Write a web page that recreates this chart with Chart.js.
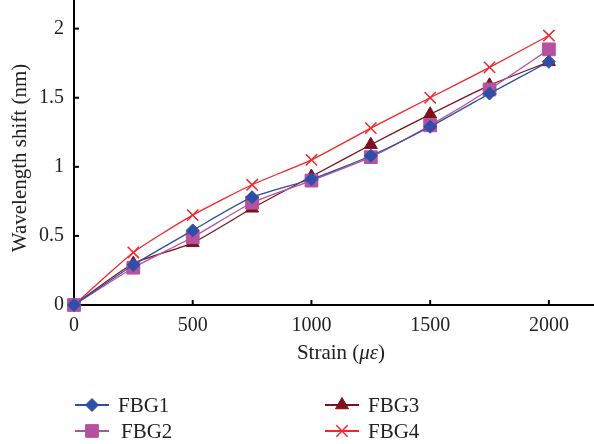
<!DOCTYPE html>
<html>
<head>
<meta charset="utf-8">
<script src="https://cdn.jsdelivr.net/npm/chart.js@4/dist/chart.umd.min.js"></script>
<style>
  html, body { margin: 0; padding: 0; background: #fff; }
  #wrap { width: 594px; height: 444px; }
</style>
</head>
<body>
<div id="wrap"><canvas id="chart" width="594" height="444"></canvas></div>
<script>
// strain steps (microstrain)
const strain = [0, 250, 500, 750, 1000, 1250, 1500, 1750, 2000];
// wavelength shift (nm)
const fbg1 = [0, 0.29, 0.54, 0.78, 0.91, 1.08, 1.29, 1.53, 1.76];
const fbg2 = [0, 0.27, 0.49, 0.74, 0.90, 1.07, 1.30, 1.56, 1.85];
const fbg3 = [0, 0.30, 0.45, 0.70, 0.93, 1.16, 1.38, 1.59, 1.76];
const fbg4 = [0, 0.38, 0.65, 0.87, 1.05, 1.28, 1.50, 1.72, 1.95];
const xTicks = [0, 500, 1000, 1500, 2000];
const yTicks = [0, 0.5, 1, 1.5, 2];

const FONT = "'Liberation Serif', 'DejaVu Serif', serif";

const series = [
  { label: "FBG1", data: fbg1, color: "#2f4fa6", style: "rectRot", radius: 6.5 },
  { label: "FBG2", data: fbg2, color: "#b6519f", style: "rect", radius: 9 },
  { label: "FBG3", data: fbg3, color: "#7d111c", style: "triangle", radius: 7.5 },
  { label: "FBG4", data: fbg4, color: "#f2262c", style: "crossRot", radius: 8 },
];

const datasets = series.map((s) => ({
  label: s.label,
  data: strain.map((x, i) => ({ x: x, y: s.data[i] })),
  borderColor: s.color,
  backgroundColor: s.color,
  borderWidth: 1.3,
  pointStyle: s.style,
  pointRadius: s.radius,
  pointBorderWidth: s.style === "crossRot" ? 1.5 : 1,
  pointBorderColor: s.color,
  pointBackgroundColor: s.color,
  tension: 0.2,
  clip: false,
}));

// inward tick marks, drawn from the scales
const tickMarks = {
  id: "tickMarks",
  beforeDatasetsDraw(chart) {
    const { ctx, chartArea, scales } = chart;
    ctx.save();
    ctx.strokeStyle = "#000";
    ctx.lineWidth = 2;
    xTicks.forEach((v) => {
      const px = scales.x.getPixelForValue(v);
      ctx.beginPath();
      ctx.moveTo(px, chartArea.bottom);
      ctx.lineTo(px, chartArea.bottom - 5);
      ctx.stroke();
    });
    yTicks.forEach((v) => {
      const py = scales.y.getPixelForValue(v);
      ctx.beginPath();
      ctx.moveTo(chartArea.left, py);
      ctx.lineTo(chartArea.left + 5, py);
      ctx.stroke();
    });
    ctx.restore();
  },
};

// axis titles and the two-column legend
const extras = {
  id: "extras",
  afterDraw(chart) {
    const { ctx } = chart;
    ctx.save();
    ctx.fillStyle = "#222";
    ctx.textBaseline = "middle";

    // y title
    ctx.save();
    ctx.translate(20, 158);
    ctx.rotate(-Math.PI / 2);
    ctx.textAlign = "center";
    ctx.font = "21px " + FONT;
    ctx.fillText("Wavelength shift (nm)", 0, 0);
    ctx.restore();

    // x title with italic symbol
    const parts = [
      ["Strain (", "21px " + FONT],
      ["\u03bc\u03b5", "italic 21px " + FONT],
      [")", "21px " + FONT],
    ];
    let total = 0;
    parts.forEach((p) => { ctx.font = p[1]; total += ctx.measureText(p[0]).width; });
    let x = 341 - total / 2;
    ctx.textAlign = "left";
    parts.forEach((p) => {
      ctx.font = p[1];
      ctx.fillText(p[0], x, 353);
      x += ctx.measureText(p[0]).width;
    });

    // legend
    const cols = [75, 325];
    const rows = [405, 431];
    chart.data.datasets.forEach((ds, i) => {
      const lx = cols[Math.floor(i / 2)];
      const ly = rows[i % 2];
      ctx.strokeStyle = ds.borderColor;
      ctx.lineWidth = 2;
      ctx.beginPath();
      ctx.moveTo(lx, ly);
      ctx.lineTo(lx + 34, ly);
      ctx.stroke();
      ctx.fillStyle = ds.backgroundColor;
      ctx.lineWidth = ds.pointBorderWidth;
      if (Chart.helpers && Chart.helpers.drawPoint) {
        Chart.helpers.drawPoint(ctx, {
          pointStyle: ds.pointStyle,
          radius: ds.pointRadius,
          rotation: 0,
          borderWidth: ds.pointBorderWidth,
        }, lx + 17, ly);
      }
      ctx.fillStyle = "#222";
      ctx.font = "21px " + FONT;
      ctx.textAlign = "left";
      ctx.fillText(ds.label, lx + 43 + (i === 1 ? 3 : 0), ly + 1);
    });
    ctx.restore();
  },
};

new Chart(document.getElementById("chart"), {
  type: "line",
  data: { datasets: datasets },
  options: {
    responsive: false,
    animation: false,
    layout: { autoPadding: false, padding: { top: 1, right: 0, left: 0, bottom: 0 } },
    plugins: { legend: { display: false }, tooltip: { enabled: false } },
    scales: {
      x: {
        type: "linear",
        min: 0,
        max: 2190,
        afterBuildTicks: (s) => { s.ticks = xTicks.map((v) => ({ value: v })); },
        afterFit: (s) => {
          s.height = 139;
          s.paddingLeft = 0;
          s.paddingRight = 0;
        },
        grid: { display: false, drawTicks: false },
        border: { display: true, color: "#000", width: 2 },
        ticks: {
          color: "#222",
          padding: 9,
          font: { family: FONT, size: 20 },
          callback: (v) => String(v),
        },
      },
      y: {
        min: 0,
        max: 2.2,
        afterBuildTicks: (s) => { s.ticks = yTicks.map((v) => ({ value: v })); },
        afterFit: (s) => {
          s.width = 74;
          s.paddingTop = 0;
          s.paddingBottom = 0;
        },
        grid: { display: false, drawTicks: false },
        border: { display: true, color: "#000", width: 2 },
        ticks: {
          color: "#222",
          padding: 10,
          font: { family: FONT, size: 20 },
          callback: (v) => String(v),
        },
      },
    },
  },
  plugins: [tickMarks, extras],
});
</script>
</body>
</html>
